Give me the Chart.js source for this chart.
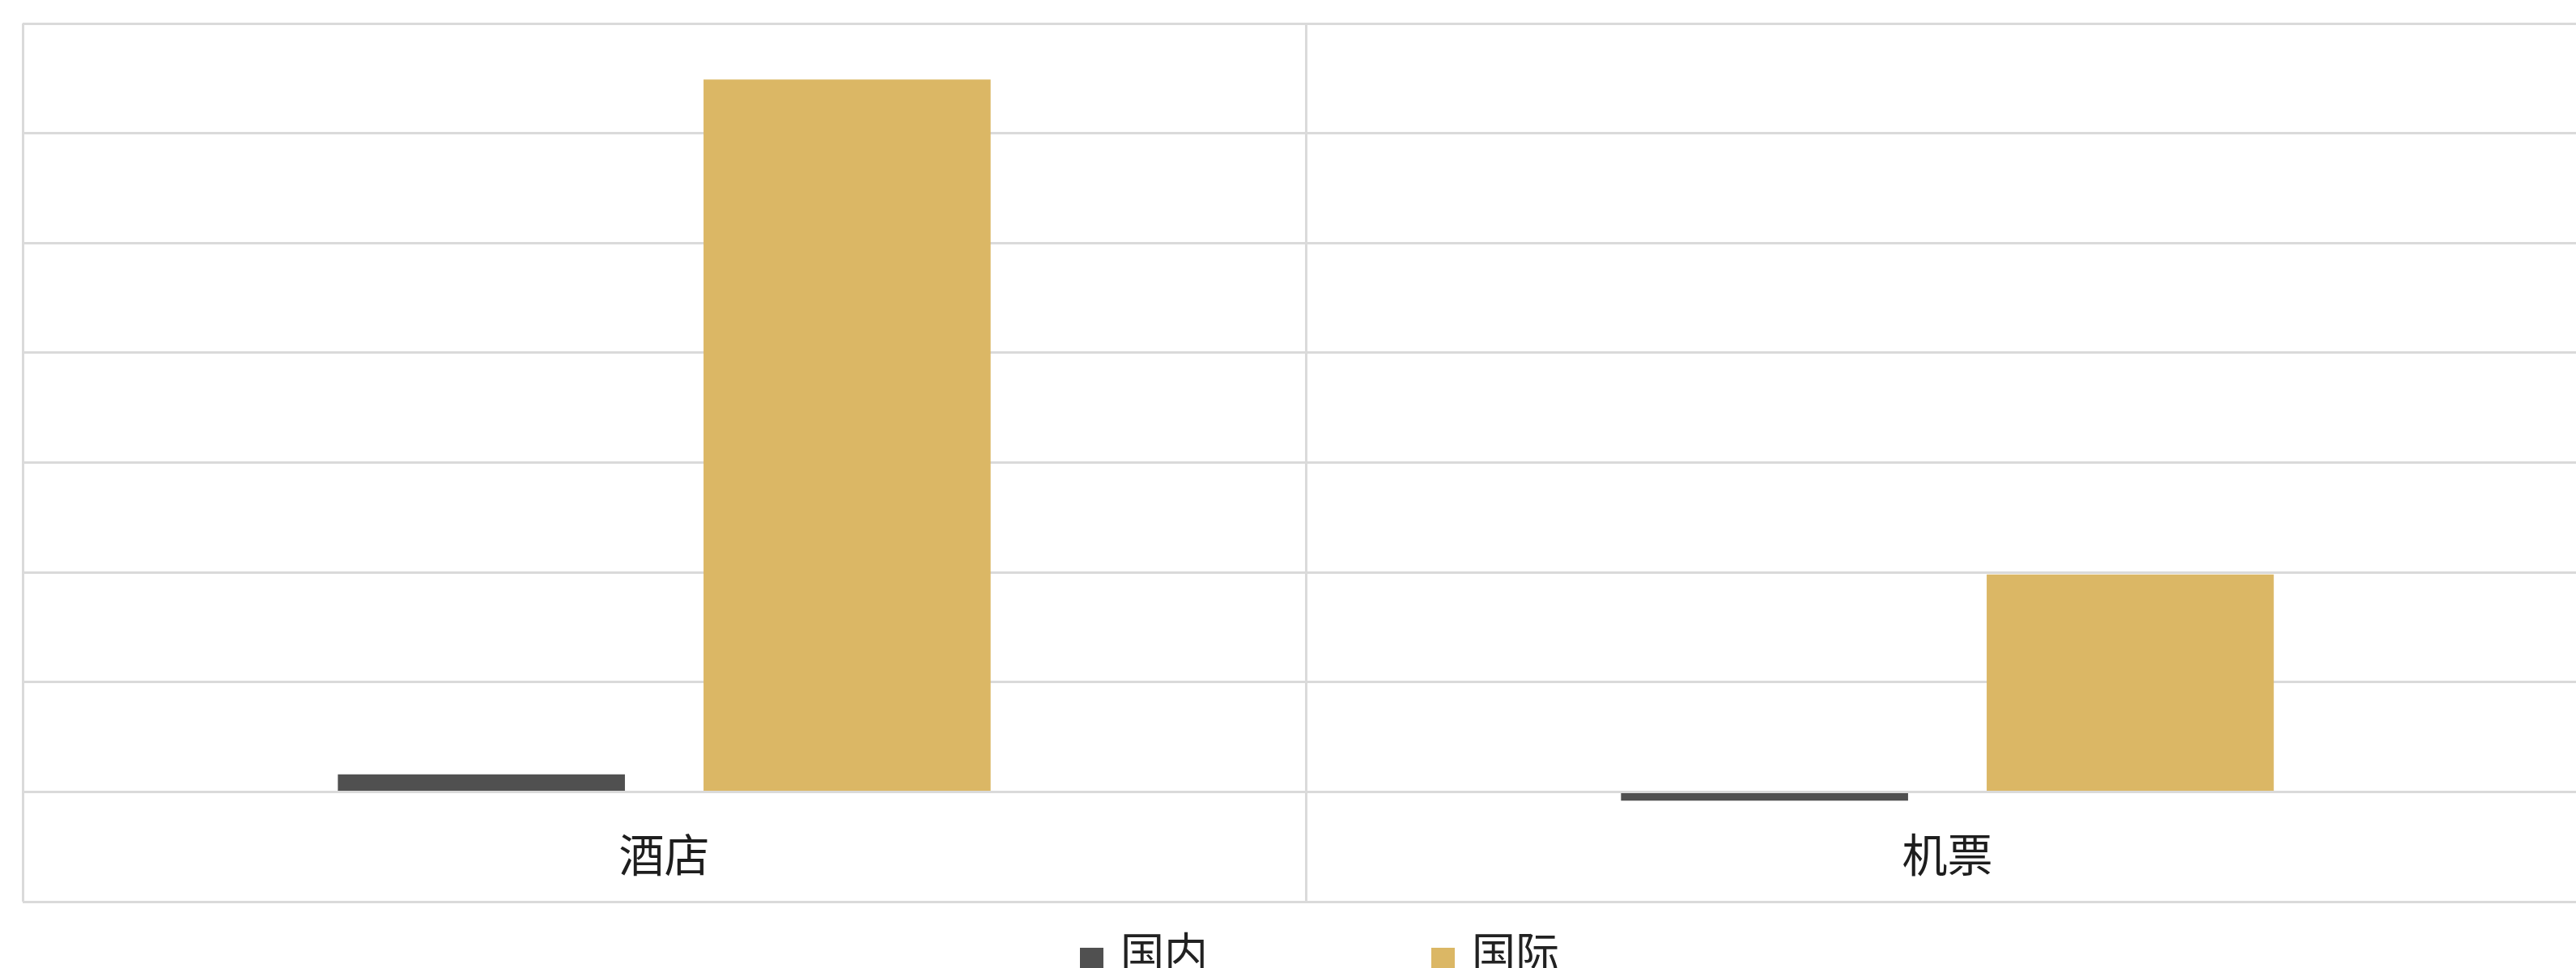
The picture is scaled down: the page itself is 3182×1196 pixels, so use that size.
<!DOCTYPE html>
<html lang="zh">

<head>
    <meta charset="UTF-8">
    <title>酒店 / 机票</title>
    <style>
        html, body { margin: 0; padding: 0; background: #fff; overflow: hidden; width: 3182px; height: 1196px; }
        #wrap { position: relative; width: 3182px; height: 1196px; overflow: hidden; }
        #myChart { position: absolute; left: 0; top: 0; }
        #legend { position: absolute; top: 1143px; left: 0; width: 3182px; height: 64px; }
        .item { position: absolute; top: 0; height: 64px; font-family: "Noto Sans CJK SC", sans-serif; font-size: 54px; line-height: 64px; color: #222; white-space: nowrap; }
        .box { display: inline-block; width: 29px; height: 29px; margin-right: 21px; vertical-align: -2px; }
    </style>
</head>

<body>
    <div id="wrap">
        <canvas id="myChart" width="3226" height="1196"></canvas>
        <div id="legend"></div>
    </div>

    <script src="https://cdn.jsdelivr.net/npm/chart.js@4/dist/chart.umd.min.js"></script>
    <script>
        // data (one gridline = 1 unit)
        const categories = ['酒店', '机票'];
        const seriesNames = ['国内', '国际'];
        const domestic = [0.16, -0.08];
        const international = [6.49, 1.98];
        const colors = ['#505050', '#dbb765'];
        const legendLeft = [1334, 1768];

        const gridColor = '#dadada';

        // category names sit inside the band between -1 and 0
        const categoryLabels = {
            id: 'categoryLabels',
            afterDraw(chart) {
                const ctx = chart.ctx;
                const xs = chart.scales.x;
                const ys = chart.scales.y;
                ctx.save();
                ctx.font = '56px "Noto Sans CJK SC", sans-serif';
                ctx.fillStyle = '#1e1e1e';
                ctx.textAlign = 'center';
                ctx.textBaseline = 'middle';
                categories.forEach((c, i) => {
                    ctx.fillText(c, xs.getPixelForValue(i), ys.getPixelForValue(-0.5) + 10);
                });
                ctx.restore();
            }
        };

        var ctx = document.getElementById('myChart');
        var config = {
            type: 'bar',
            data: {
                labels: categories,
                datasets: [
                    {
                        label: seriesNames[0],
                        data: domestic,
                        backgroundColor: colors[0],
                        borderWidth: 0,
                    },
                    {
                        label: seriesNames[1],
                        data: international,
                        backgroundColor: colors[1],
                        borderWidth: 0,
                    }
                ]
            },
            options: {
                responsive: false,
                animation: false,
                devicePixelRatio: 1,
                categoryPercentage: 0.57,
                barPercentage: 0.785,
                layout: {
                    padding: { left: 28, right: 28, top: 29, bottom: 82 }
                },
                plugins: {
                    legend: { display: false },
                    tooltip: { enabled: false }
                },
                scales: {
                    x: {
                        ticks: { display: false },
                        grid: { offset: true, color: gridColor, lineWidth: 3, drawTicks: false },
                        border: { display: false }
                    },
                    y: {
                        min: -1,
                        max: 7,
                        ticks: { display: false, stepSize: 1 },
                        grid: { color: gridColor, lineWidth: 3, drawTicks: false },
                        border: { display: false }
                    }
                }
            },
            plugins: [categoryLabels]
        }
        var chart = new Chart(ctx, config);

        // html legend under the chart
        const legend = document.getElementById('legend');
        chart.data.datasets.forEach((ds, i) => {
            const item = document.createElement('div');
            item.className = 'item';
            item.style.left = legendLeft[i] + 'px';
            item.innerHTML = '<span class="box" style="background:' + ds.backgroundColor + '"></span>' + ds.label;
            legend.appendChild(item);
        });
    </script>

</body>

</html>
